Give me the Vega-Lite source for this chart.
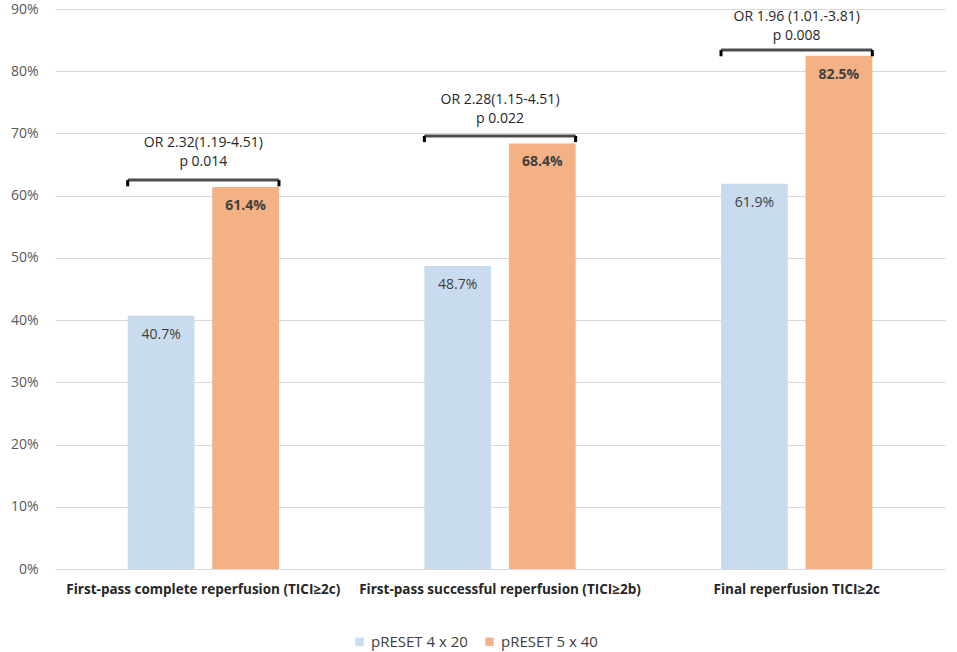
{
  "$schema": "https://vega.github.io/schema/vega-lite/v6.json",
  "width": 890,
  "height": 560,
  "autosize": {"type": "none"},
  "padding": {"left": 55, "top": 9, "right": 12, "bottom": 83},
  "datasets": {
    "bars": [
      {"outcome": "First-pass complete reperfusion (TICI≥2c)", "device": "pRESET 4 x 20", "rate": 0.407},
      {"outcome": "First-pass complete reperfusion (TICI≥2c)", "device": "pRESET 5 x 40", "rate": 0.614},
      {"outcome": "First-pass successful reperfusion (TICI≥2b)", "device": "pRESET 4 x 20", "rate": 0.487},
      {"outcome": "First-pass successful reperfusion (TICI≥2b)", "device": "pRESET 5 x 40", "rate": 0.684},
      {"outcome": "Final reperfusion TICI≥2c", "device": "pRESET 4 x 20", "rate": 0.619},
      {"outcome": "Final reperfusion TICI≥2c", "device": "pRESET 5 x 40", "rate": 0.825}
    ],
    "stats": [
      {"outcome": "First-pass complete reperfusion (TICI≥2c)", "bracket": 0.625, "tickEnd": 0.615, "note": ["OR 2.32(1.19-4.51)", "p 0.014"], "noteAt": 0.685},
      {"outcome": "First-pass successful reperfusion (TICI≥2b)", "bracket": 0.696, "tickEnd": 0.686, "note": ["OR 2.28(1.15-4.51)", "p 0.022"], "noteAt": 0.754},
      {"outcome": "Final reperfusion TICI≥2c", "bracket": 0.834, "tickEnd": 0.824, "note": ["OR 1.96 (1.01.-3.81)", "p 0.008"], "noteAt": 0.887}
    ]
  },
  "encoding": {
    "x": {
      "field": "outcome",
      "type": "nominal",
      "sort": null,
      "title": null,
      "scale": {"paddingInner": 0.49, "paddingOuter": 0.245},
      "axis": {
        "labelAngle": 0,
        "labelFontWeight": "bold",
        "labelFontSize": 13.5,
        "labelColor": "#262626",
        "labelPadding": 13,
        "ticks": false,
        "domainColor": "#d9d9d9",
        "labelLimit": 320
      }
    }
  },
  "layer": [
    {
      "data": {"name": "bars"},
      "mark": {"type": "bar"},
      "encoding": {
        "xOffset": {
          "field": "device",
          "type": "nominal",
          "scale": {"paddingInner": 0.21, "paddingOuter": 0}
        },
        "y": {
          "field": "rate",
          "type": "quantitative",
          "title": null,
          "scale": {"domain": [0, 0.9]},
          "axis": {
            "format": "%",
            "values": [0, 0.1, 0.2, 0.3, 0.4, 0.5, 0.6, 0.7, 0.8, 0.9],
            "domain": false,
            "ticks": false,
            "labelFontSize": 14,
            "labelColor": "#595959",
            "labelPadding": 17,
            "gridColor": "#d9d9d9"
          }
        },
        "color": {
          "field": "device",
          "type": "nominal",
          "title": null,
          "scale": {"range": ["#c9dcef", "#f4b183"]},
          "legend": {
            "orient": "none",
            "legendX": 297,
            "legendY": 625,
            "direction": "horizontal",
            "symbolType": "square",
            "symbolSize": 70,
            "symbolStrokeWidth": 0,
            "labelFontSize": 15,
            "labelColor": "#404040",
            "columnPadding": 14
          }
        }
      }
    },
    {
      "data": {"name": "bars"},
      "transform": [{"filter": "datum.device == 'pRESET 4 x 20'"}],
      "mark": {"type": "text", "baseline": "middle", "dy": 19, "fontSize": 14, "color": "#404040"},
      "encoding": {
        "xOffset": {"field": "device", "type": "nominal", "scale": {"paddingInner": 0.21, "paddingOuter": 0}},
        "y": {"field": "rate", "type": "quantitative"},
        "text": {"field": "rate", "type": "quantitative", "format": ".1%"}
      }
    },
    {
      "data": {"name": "bars"},
      "transform": [{"filter": "datum.device == 'pRESET 5 x 40'"}],
      "mark": {"type": "text", "baseline": "middle", "dy": 19, "fontSize": 14, "fontWeight": "bold", "color": "#404040"},
      "encoding": {
        "xOffset": {"field": "device", "type": "nominal", "scale": {"paddingInner": 0.21, "paddingOuter": 0}},
        "y": {"field": "rate", "type": "quantitative"},
        "text": {"field": "rate", "type": "quantitative", "format": ".1%"}
      }
    },
    {
      "data": {"name": "stats"},
      "mark": {"type": "rule", "strokeWidth": 3, "color": "black"},
      "encoding": {
        "x": {"field": "outcome", "type": "nominal", "sort": null, "bandPosition": 0},
        "y": {"field": "tickEnd", "type": "quantitative"},
        "y2": {"field": "bracket"}
      }
    },
    {
      "data": {"name": "stats"},
      "mark": {"type": "rule", "strokeWidth": 3, "color": "black"},
      "encoding": {
        "x": {"field": "outcome", "type": "nominal", "sort": null, "bandPosition": 1},
        "y": {"field": "tickEnd", "type": "quantitative"},
        "y2": {"field": "bracket"}
      }
    },
    {
      "data": {"name": "stats"},
      "mark": {"type": "tick", "orient": "horizontal", "thickness": 3, "color": "black", "bandSize": 151},
      "encoding": {
        "y": {"field": "bracket", "type": "quantitative"}
      }
    },
    {
      "data": {"name": "stats"},
      "mark": {"type": "text", "baseline": "middle", "fontSize": 14, "lineHeight": 19, "color": "#262626"},
      "encoding": {
        "y": {"field": "noteAt", "type": "quantitative"},
        "text": {"field": "note"}
      }
    }
  ],
  "config": {
    "font": "Open Sans",
    "view": {"stroke": null},
    "axis": {"labelFont": "Open Sans"},
    "legend": {"labelFont": "Open Sans"}
  }
}
